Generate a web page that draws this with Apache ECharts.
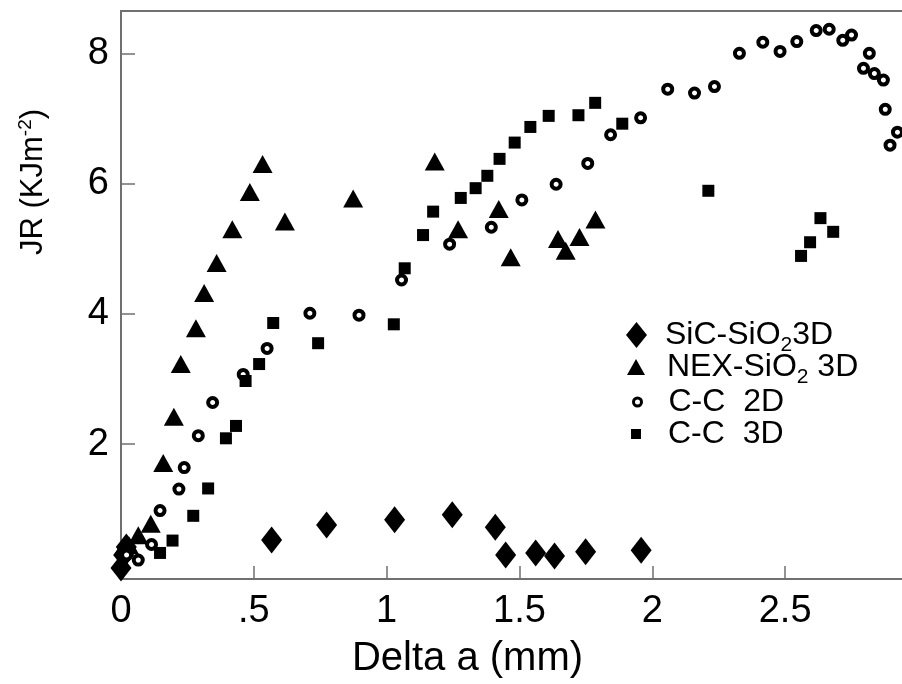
<!DOCTYPE html>
<html>
<head>
<meta charset="utf-8">
<script src="https://cdn.jsdelivr.net/npm/echarts@6/dist/echarts.min.js"></script>
<style>html,body{margin:0;padding:0;background:#fff}#c{width:902px;height:684px}</style>
</head>
<body>
<div id="c"></div>
<script>
// ---- data ----
const seriesNames = ['SiC-SiO2 3D', 'NEX-SiO2 3D', 'C-C  2D', 'C-C  3D'];
const xTicks = [0, 0.5, 1, 1.5, 2, 2.5];
const xTickLabels = ['0', '.5', '1', '1.5', '2', '2.5'];
const yTicks = [2, 4, 6, 8];
const yTickLabels = ['2', '4', '6', '8'];

const sicSio2 = [
  [0.0, 0.1], [0.01, 0.3], [0.02, 0.42],
  [0.567, 0.53], [0.774, 0.76], [1.03, 0.84], [1.247, 0.915], [1.409, 0.725],
  [1.448, 0.30], [1.561, 0.33], [1.632, 0.285], [1.749, 0.35], [1.958, 0.37]
];
const nexSio2 = [
  [0.01, 0.42], [0.03, 0.45], [0.065, 0.6], [0.112, 0.78], [0.159, 1.71],
  [0.199, 2.42], [0.225, 3.23], [0.282, 3.78], [0.313, 4.32], [0.36, 4.78],
  [0.419, 5.30], [0.485, 5.87], [0.533, 6.30], [0.617, 5.42], [0.874, 5.77],
  [1.181, 6.34], [1.269, 5.30], [1.422, 5.61], [1.467, 4.87], [1.645, 5.15],
  [1.674, 4.97], [1.726, 5.18], [1.786, 5.45]
];
const cc2d = [
  [0.021, 0.30], [0.065, 0.22], [0.115, 0.46], [0.147, 0.98], [0.218, 1.31],
  [0.238, 1.64], [0.291, 2.13], [0.345, 2.64], [0.46, 3.07], [0.55, 3.47],
  [0.711, 4.01], [0.896, 3.98], [1.056, 4.52], [1.237, 5.07], [1.394, 5.33],
  [1.509, 5.75], [1.638, 5.99], [1.757, 6.31], [1.843, 6.75], [1.956, 7.01],
  [2.058, 7.45], [2.159, 7.39], [2.234, 7.49], [2.328, 8.00], [2.416, 8.17],
  [2.481, 8.03], [2.544, 8.18], [2.617, 8.35], [2.666, 8.37], [2.717, 8.20],
  [2.75, 8.28], [2.795, 7.77], [2.817, 8.00], [2.836, 7.69], [2.87, 7.59],
  [2.877, 7.14], [2.895, 6.59], [2.923, 6.79]
];
const cc3d = [
  [0.147, 0.33], [0.194, 0.52], [0.272, 0.90], [0.328, 1.32], [0.395, 2.09],
  [0.433, 2.28], [0.469, 2.97], [0.52, 3.23], [0.573, 3.86], [0.742, 3.55],
  [1.027, 3.84], [1.068, 4.70], [1.137, 5.21], [1.175, 5.57], [1.279, 5.78],
  [1.335, 5.93], [1.379, 6.12], [1.425, 6.38], [1.482, 6.63], [1.541, 6.87],
  [1.61, 7.04], [1.722, 7.05], [1.785, 7.24], [1.887, 6.92], [2.211, 5.89],
  [2.56, 4.89], [2.594, 5.10], [2.633, 5.47], [2.681, 5.26]
];

// ---- styling ----
const FONT = '"Liberation Sans", Arial, Helvetica, sans-serif';
const AX = '#707070';

function legendFor(name, left, top, w, h, padLeft, parts, extra) {
  const rich = {
    f: {fontFamily: FONT, fontSize: 32, color: '#000', lineHeight: 32, padding: [0, 0, 0, padLeft]},
    n: {fontFamily: FONT, fontSize: 32, color: '#000', lineHeight: 32},
    sub: {fontFamily: FONT, fontSize: 21, color: '#000', lineHeight: 21, padding: [20, 0, 0, 0]}
  };
  return Object.assign({
    data: [name], left: left, top: top, orient: 'vertical', padding: 0,
    itemWidth: w, itemHeight: h, selectedMode: false,
    itemStyle: {color: '#000', opacity: 1},
    textStyle: {rich: rich},
    formatter: function () { return parts; }
  }, extra || {});
}

const chart = echarts.init(document.getElementById('c'), null, {renderer: 'canvas'});
chart.setOption({
  animation: false,
  backgroundColor: '#fff',
  grid: {left: 121, right: 0, top: 11, bottom: 105, containLabel: false},
  xAxis: [{
    type: 'value', min: 0, max: 2.94,
    axisLine: {onZero: false, lineStyle: {color: AX, width: 2}},
    axisTick: {inside: true, length: 13, customValues: xTicks, lineStyle: {color: AX, width: 1.5}},
    axisLabel: {
      customValues: xTicks, margin: 14, color: '#000', fontFamily: FONT, fontSize: 38,
      formatter: function (v) { const i = xTicks.indexOf(v); return i >= 0 ? xTickLabels[i] : ''; }
    },
    splitLine: {show: false},
    name: 'Delta a (mm)', nameLocation: 'middle', nameGap: 60,
    nameTextStyle: {fontFamily: FONT, fontSize: 40, color: '#000', padding: [0, 88, 0, 0]}
  }, {
    type: 'value', min: 0, max: 2.94, position: 'top',
    axisLine: {onZero: false, lineStyle: {color: AX, width: 2}},
    axisTick: {show: false}, axisLabel: {show: false}, splitLine: {show: false}
  }],
  yAxis: {
    type: 'value', min: -0.07, max: 8.65,
    axisLine: {show: true, onZero: false, lineStyle: {color: AX, width: 2}},
    axisTick: {show: true, inside: true, length: 14, customValues: yTicks, lineStyle: {color: AX, width: 1.5}},
    axisLabel: {
      customValues: yTicks, margin: 12, color: '#000', fontFamily: FONT, fontSize: 38,
      formatter: function (v) { const i = yTicks.indexOf(v); return i >= 0 ? yTickLabels[i] : ''; }
    },
    splitLine: {show: false},
    name: '{n|JR (KJm}{sup|-2}{n|)}', nameLocation: 'middle', nameGap: 72,
    nameTextStyle: {
      padding: [0, 0, 0, 226],
      rich: {
        n: {fontFamily: FONT, fontSize: 31, color: '#000', lineHeight: 31},
        sup: {fontFamily: FONT, fontSize: 19, color: '#000', lineHeight: 19, padding: [0, 0, 16, 0]}
      }
    }
  },
  legend: [
    legendFor(seriesNames[0], 626, 335 - 20.5, 21, 26, 13, '{f|SiC-SiO}{sub|2}{n|3D}'),
    legendFor(seriesNames[1], 627, 367 - 20.5, 18, 16, 17, '{f|NEX-SiO}{sub|2}{n| 3D}'),
    legendFor(seriesNames[2], 632, 402 - 16, 8, 8, 22, '{f|C-C  2D}',
      {itemStyle: {color: '#fff', borderColor: '#000', borderWidth: 3, opacity: 1}}),
    legendFor(seriesNames[3], 631, 434 - 16, 10, 10, 22, '{f|C-C  3D}')
  ],
  series: [
    {
      name: seriesNames[0], type: 'scatter', data: sicSio2, clip: false,
      symbol: 'diamond', symbolSize: [21, 27], itemStyle: {color: '#000', opacity: 1}
    },
    {
      name: seriesNames[1], type: 'scatter', data: nexSio2, clip: false,
      symbol: 'triangle', symbolSize: [20, 18], itemStyle: {color: '#000', opacity: 1}
    },
    {
      name: seriesNames[2], type: 'scatter', data: cc2d, clip: false,
      symbol: 'circle', symbolSize: 9,
      itemStyle: {color: '#fff', borderColor: '#000', borderWidth: 4, opacity: 1}
    },
    {
      name: seriesNames[3], type: 'scatter', data: cc3d, clip: false,
      symbol: 'rect', symbolSize: 12, itemStyle: {color: '#000', opacity: 1}
    }
  ]
});
</script>
</body>
</html>
